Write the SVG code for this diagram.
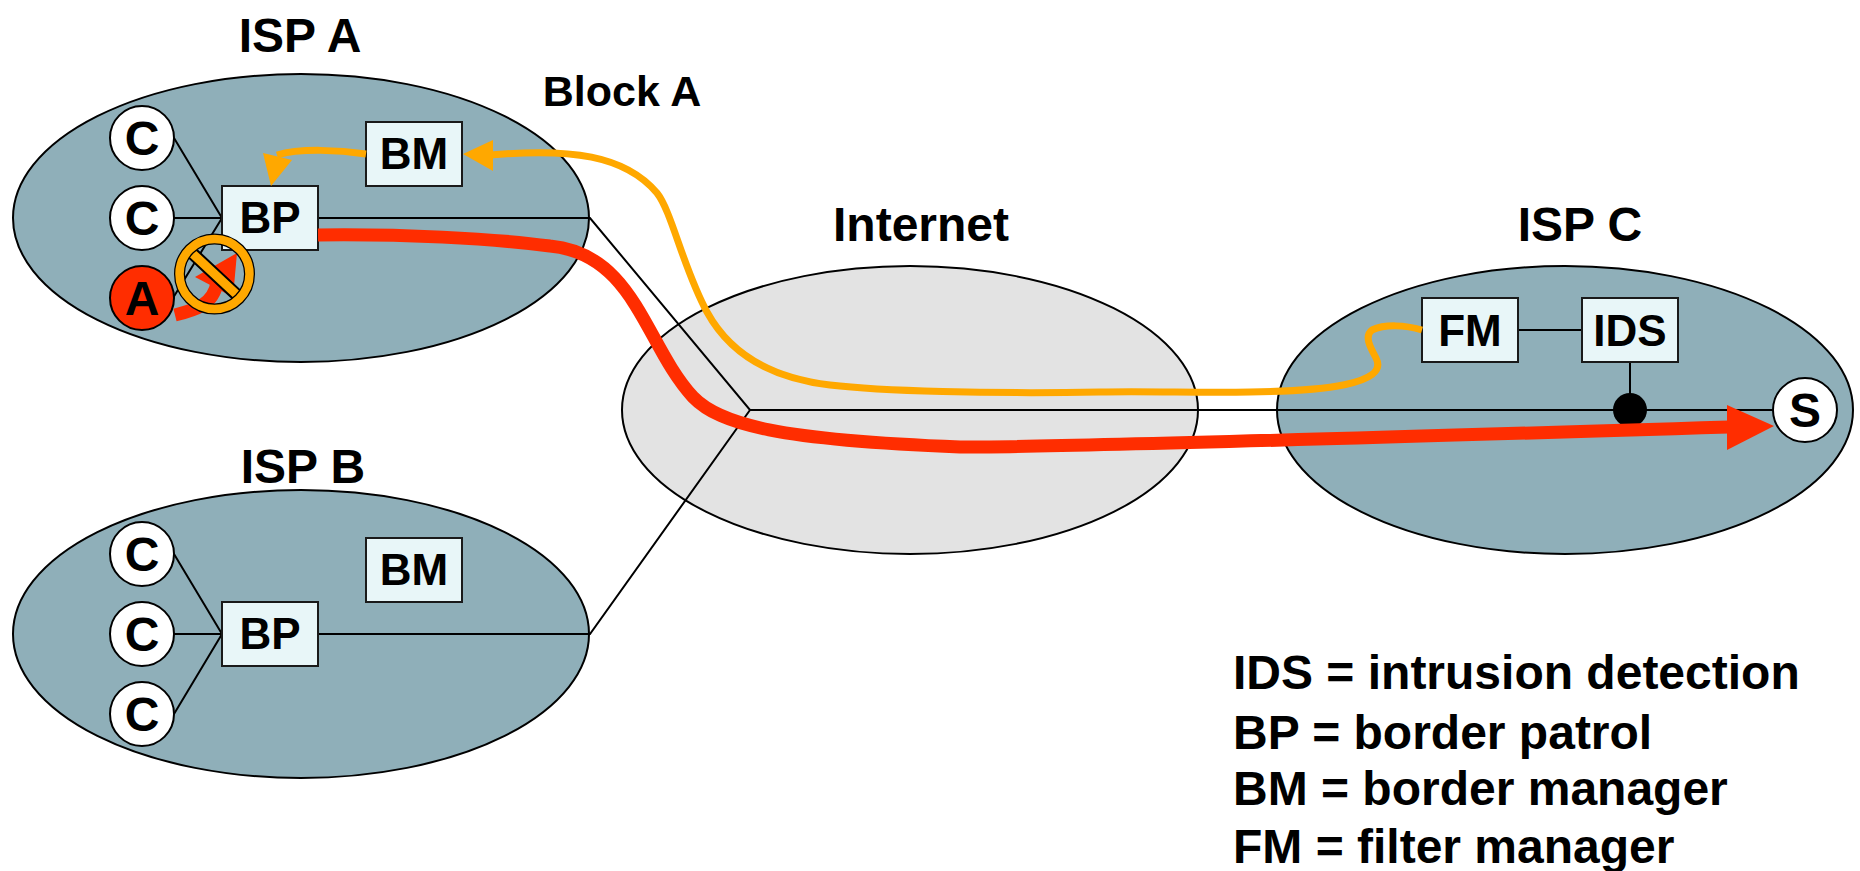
<svg xmlns="http://www.w3.org/2000/svg" width="1860" height="871" viewBox="0 0 1860 871">
<style>
text{font-family:"Liberation Sans",Arial,sans-serif;font-weight:bold;fill:#000;text-anchor:middle}
.t48{font-size:48px}.t43{font-size:43px}.t44{font-size:44px}
.isp{fill:#8fafb9;stroke:#000;stroke-width:2}
.net{fill:#e3e3e3;stroke:#000;stroke-width:2}
.box{fill:#e8f6f8;stroke:#1a1a1a;stroke-width:2}
.host{fill:#fff;stroke:#000;stroke-width:2}
.link{fill:none;stroke:#000;stroke-width:2}
.red{fill:none;stroke:#ff2d00;stroke-width:13}
.org{fill:none;stroke:#ffa800;stroke-width:7}
.l{text-anchor:start}
</style>
<g id="isp-a"><ellipse class="isp" cx="301" cy="218" rx="288" ry="144"/><text class="t48" x="300" y="52">ISP A</text></g>
<g id="isp-b"><ellipse class="isp" cx="301" cy="634" rx="288" ry="144"/><text class="t48" x="303" y="483">ISP B</text></g>
<g id="internet"><ellipse class="net" cx="910" cy="410" rx="288" ry="144"/><text class="t48" x="921" y="241">Internet</text></g>
<g id="isp-c"><ellipse class="isp" cx="1565" cy="410" rx="288" ry="144"/><text class="t48" x="1580" y="241">ISP C</text></g>
<g id="connectors">
<path class="link" d="M174 138L222 218M174 218H222M173 298L222 218M318 218H590L750 410H1775M750 410L590 634H318M174 554L222 634M174 634H222M174 714L222 634M1518 330H1582M1630 362V410"/>
<circle cx="1630" cy="410" r="17"/>
</g>
<g id="c1"><circle class="host" cx="142" cy="138" r="32"/><text class="t48" x="142" y="155">C</text></g>
<g id="c2"><circle class="host" cx="142" cy="218" r="32"/><text class="t48" x="142" y="235">C</text></g>
<g id="a"><circle class="host" style="fill:#ff2d00" cx="142" cy="298" r="32"/><text class="t48" x="142" y="315">A</text></g>
<g id="bp-a"><rect class="box" x="222" y="186" width="96" height="64"/><text class="t44" x="270" y="233">BP</text></g>
<g id="bm-a"><rect class="box" x="366" y="122" width="96" height="64"/><text class="t44" x="414" y="169">BM</text></g>
<g id="c3"><circle class="host" cx="142" cy="554" r="32"/><text class="t48" x="142" y="571">C</text></g>
<g id="c4"><circle class="host" cx="142" cy="634" r="32"/><text class="t48" x="142" y="651">C</text></g>
<g id="c5"><circle class="host" cx="142" cy="714" r="32"/><text class="t48" x="142" y="731">C</text></g>
<g id="bp-b"><rect class="box" x="222" y="602" width="96" height="64"/><text class="t44" x="270" y="649">BP</text></g>
<g id="bm-b"><rect class="box" x="366" y="538" width="96" height="64"/><text class="t44" x="414" y="585">BM</text></g>
<g id="fm"><rect class="box" x="1422" y="298" width="96" height="64"/><text class="t44" x="1470" y="346">FM</text></g>
<g id="ids"><rect class="box" x="1582" y="298" width="96" height="64"/><text class="t44" x="1630" y="346">IDS</text></g>
<g id="s"><circle class="host" cx="1805" cy="410" r="32"/><text class="t48" x="1805" y="427">S</text></g>
<g id="flows">
<path class="org" d="M366 154C340 150 300 148 277 155"/>
<path d="M271 186L263 153L292 160Z" fill="#ffa800"/>
<path class="org" d="M490 155C570 148 625 155 657 193C672 212 683 268 707 312C730 354 770 378 830 385C880 391 990 394 1100 392C1150 391 1200 393 1250 392C1320 391 1390 385 1376 358C1370 347 1364 336 1372 330C1385 324 1405 325 1422 330"/>
<path d="M463 154L493 140V171Z" fill="#ffa800"/>
<path class="red" d="M318 235C400 234 490 238 550 246C635 254 645 345 693 397C720 425 780 440 960 447C1020 448 1300 440 1729 427"/>
<path d="M1774 426L1727 405V450Z" fill="#ff2d00"/>
<path class="red" d="M175 315C195 310 213 305 217 283"/>
<path d="M237 253L195 277L233 297Z" fill="#ff2d00"/>
</g>
<g id="no-symbol" transform="translate(214.500 274)">
<g transform="rotate(43)"><rect x="-33" y="-5.500" width="66" height="11" fill="#ffa800" stroke="#000" stroke-width="2"/></g>
<circle r="35" fill="none" stroke="#000" stroke-width="11"/>
<circle r="35" fill="none" stroke="#ffa800" stroke-width="8.500"/>
</g>
<g id="labels">
<text class="t43" x="622" y="106">Block A</text>
<text class="t48 l" x="1233" y="689">IDS = intrusion detection</text>
<text class="t48 l" x="1233" y="749">BP = border patrol</text>
<text class="t48 l" x="1233" y="805">BM = border manager</text>
<text class="t48 l" x="1233" y="863">FM = filter manager</text>
</g>
</svg>
